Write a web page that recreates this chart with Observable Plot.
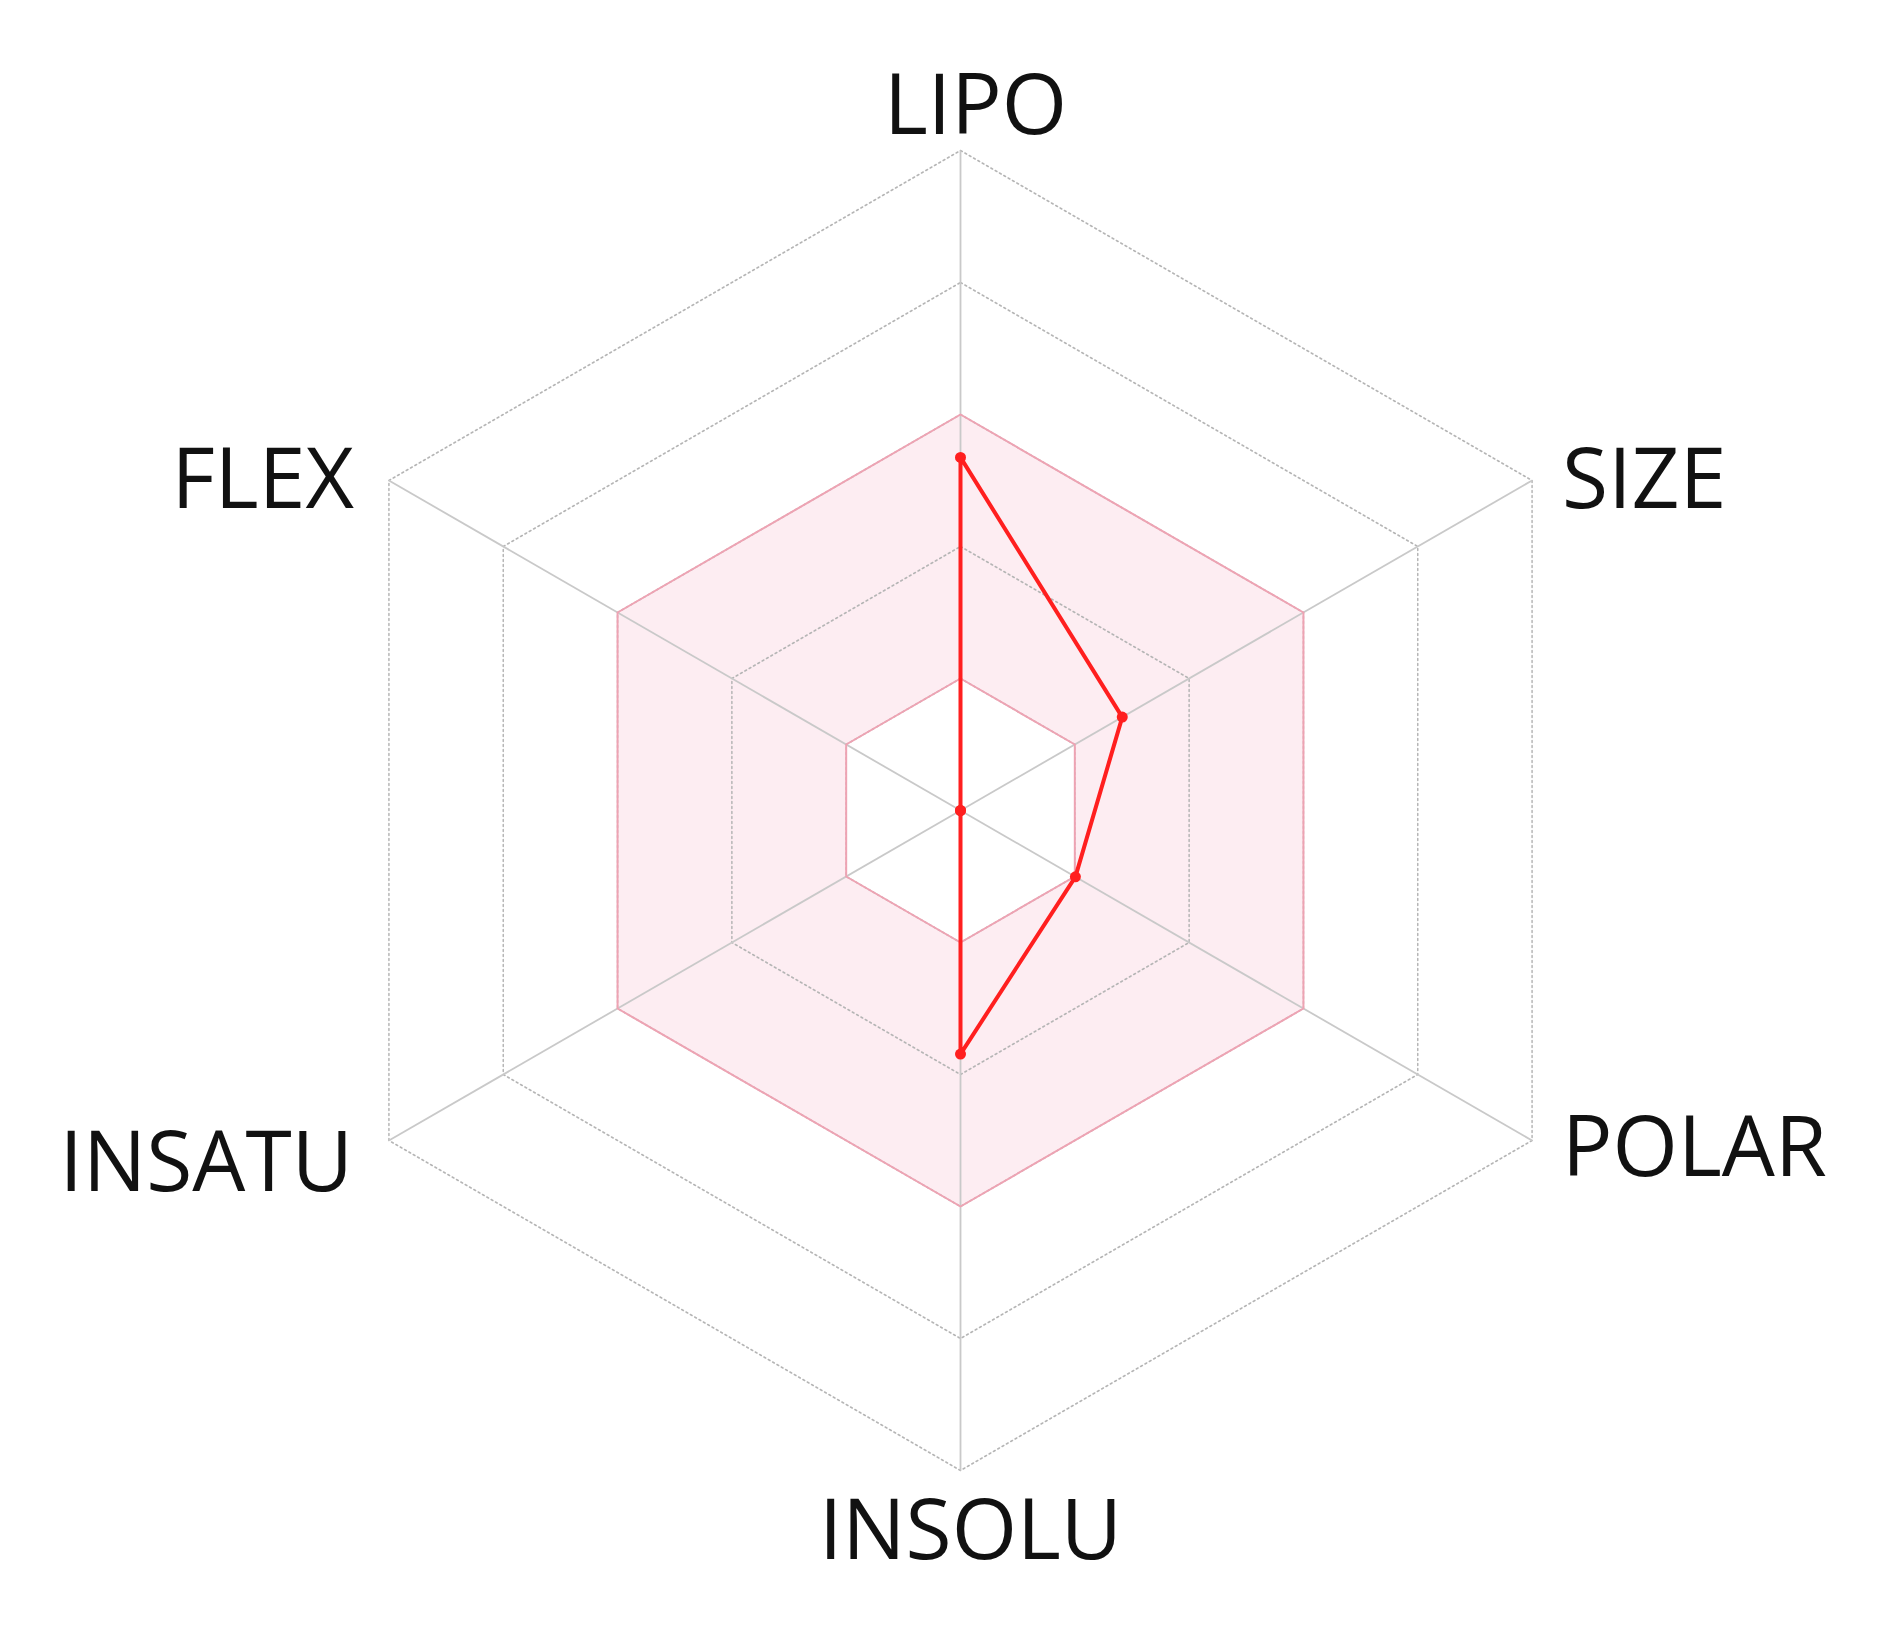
<!DOCTYPE html>
<html>
<head>
<meta charset="utf-8">
<script src="https://cdn.jsdelivr.net/npm/d3@7"></script>
<script src="https://cdn.jsdelivr.net/npm/@observablehq/plot@0.6"></script>
<style>
  html, body { margin: 0; padding: 0; background: #fff; }
  #chart svg { display: block; }
</style>
</head>
<body>
<div id="chart"></div>
<script>
// ---- data ----
const axes = ["LIPO", "SIZE", "POLAR", "INSOLU", "INSATU", "FLEX"];
const values = [0.535, 0.283, 0.201, 0.369, 0, 0];   // fraction of full radius
const rings = [0.2, 0.4, 0.6, 0.8, 1.0];
const optimalRange = [0.2, 0.6];

// ---- layout / style (not data) ----
const W = 1888, H = 1634, cx = 960, cy = 810, R = 660;
const labelLayout = {
  LIPO:   {anchor: "middle", dx: 15,  dy: -17},
  SIZE:   {anchor: "start",  dx: 30,  dy: 27},
  POLAR:  {anchor: "start",  dx: 30,  dy: 35},
  INSOLU: {anchor: "middle", dx: 10,  dy: 88},
  INSATU: {anchor: "end",    dx: -36, dy: 50},
  FLEX:   {anchor: "end",    dx: -35, dy: 27}
};

const ang = i => Math.PI / 2 - i * Math.PI / 3;
const pt = (i, r) => ({x: r * Math.cos(ang(i)), y: r * Math.sin(ang(i)), i});
const hexClosed = r => d3.range(axes.length + 1).map(i => ({...pt(i % axes.length, r), ring: r}));
const hexOpen = r => d3.range(axes.length).map(i => ({...pt(i, r), ring: r}));

const ringPts = rings.flatMap(r => hexClosed(r));
const spokes = axes.map((a, i) => ({...pt(i, 1), name: a, ox: 0, oy: 0}));
const profile = values.map((v, i) => ({...pt(i, v), name: axes[i]}));

const labelMarks = axes.map((a, i) => {
  const L = labelLayout[a];
  return Plot.text([spokes[i]], {
    x: "x", y: "y", text: "name",
    textAnchor: L.anchor, lineAnchor: "bottom",
    dx: L.dx, dy: L.dy,
    fontSize: 84, fill: "#111",
    fontFamily: "'Open Sans', 'Noto Sans', sans-serif"
  });
});

const chart = Plot.plot({
  width: W, height: H,
  margin: 0,
  x: {type: "linear", domain: [-cx / R, (W - cx) / R], range: [0, W], axis: null},
  y: {type: "linear", domain: [-(H - cy) / R, cy / R], range: [H, 0], axis: null},
  style: {background: "#fff"},
  marks: [
    Plot.line(hexOpen(optimalRange[1]), {x: "x", y: "y", curve: "linear-closed", fill: "#fdedf2", stroke: "none"}),
    Plot.line(hexOpen(optimalRange[0]), {x: "x", y: "y", curve: "linear-closed", fill: "#ffffff", stroke: "none"}),
    Plot.line(ringPts, {x: "x", y: "y", z: "ring", stroke: "#b5b5b5", strokeWidth: 1.5, strokeDasharray: "2 3"}),
    Plot.link(spokes, {x1: "ox", y1: "oy", x2: "x", y2: "y", stroke: "#c9c9c9", strokeWidth: 1.8}),
    Plot.line(hexOpen(optimalRange[1]), {x: "x", y: "y", curve: "linear-closed", stroke: "#eea3b3", strokeWidth: 2}),
    Plot.line(hexOpen(optimalRange[0]), {x: "x", y: "y", curve: "linear-closed", stroke: "#eea3b3", strokeWidth: 2}),
    Plot.line(profile, {x: "x", y: "y", curve: "linear-closed", stroke: "#ff1f1f", strokeWidth: 4, strokeLinejoin: "round"}),
    Plot.dot(profile, {x: "x", y: "y", r: 5.5, fill: "#ff1f1f", stroke: "none"}),
    ...labelMarks
  ]
});
document.getElementById("chart").append(chart);
</script>
</body>
</html>
